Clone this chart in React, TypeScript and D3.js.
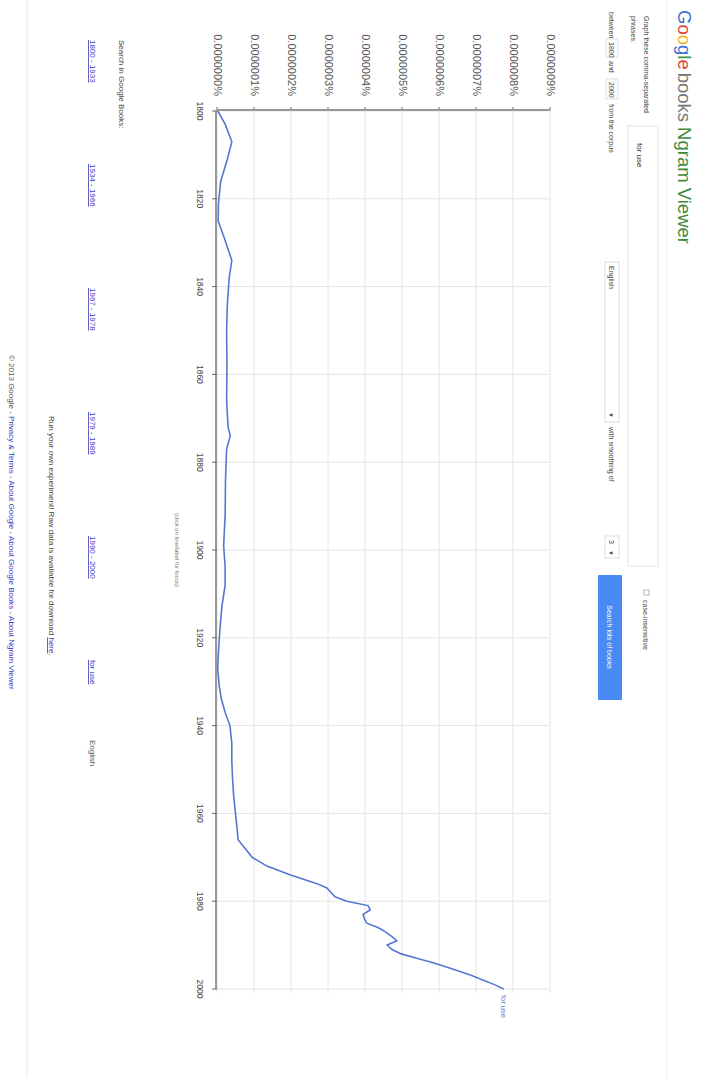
import React from "react";
import * as d3 from "d3";

// ---- data (frequency in units of 1e-7 %) ----
const years = [
  1800, 1803, 1807, 1811, 1816, 1821, 1825, 1829, 1834, 1838, 1844, 1850, 1858, 1866, 1872, 1874,
  1877, 1884, 1892, 1899, 1904, 1908, 1913, 1918, 1923, 1927, 1931, 1934, 1937, 1940, 1944, 1948,
  1952, 1956, 1960, 1964, 1966, 1968, 1970, 1972, 1974, 1976, 1977, 1979, 1980, 1981, 1982, 1983,
  1984, 1985, 1986, 1987, 1988, 1989, 1990, 1991, 1992, 1993, 1994, 1995, 1996, 1997, 1998, 1999,
  2000,
];
const values = [
  0.02, 0.22, 0.4, 0.28, 0.1, 0.04, 0.03, 0.2, 0.4, 0.33, 0.28, 0.26, 0.27, 0.26, 0.3, 0.36,
  0.26, 0.23, 0.22, 0.18, 0.22, 0.22, 0.13, 0.08, 0.04, 0.02, 0.06, 0.12, 0.22, 0.35, 0.4, 0.4,
  0.42, 0.45, 0.5, 0.55, 0.57, 0.76, 0.95, 1.35, 1.97, 2.7, 2.97, 3.19, 3.51, 4.08, 4.14, 3.95,
  3.98, 4.05, 4.35, 4.55, 4.72, 4.86, 4.6, 4.73, 4.98, 5.4, 5.84, 6.2, 6.57, 6.9, 7.2, 7.5,
  7.75,
];
const xTicks = [1800, 1820, 1840, 1860, 1880, 1900, 1920, 1940, 1960, 1980, 2000];
const yTicks = [0, 1, 2, 3, 4, 5, 6, 7, 8, 9];
const yTickLabels = [
  "0.0000000%", "0.0000001%", "0.0000002%", "0.0000003%", "0.0000004%",
  "0.0000005%", "0.0000006%", "0.0000007%", "0.0000008%", "0.0000009%",
];
const phrase = "for use";
const searchRanges = ["1800 - 1933", "1934 - 1966", "1967 - 1978", "1979 - 1989", "1990 - 2000"];

const FONT = "'Liberation Sans', Arial, sans-serif";

export default function App() {
  const W = 1078; // unrotated width (screen height)
  const H = 703; // unrotated height (screen width)
  const x = d3.scaleLinear().domain([1800, 2000]).range([111, 989]);
  const y = d3.scaleLinear().domain([0, 9]).range([486, 153]);
  const pts: [number, number][] = years.map((yr, i) => [yr, values[i]]);
  const path = d3
    .line<[number, number]>()
    .x((d) => x(d[0]))
    .y((d) => y(d[1]))(pts) as string;
  const last = pts[pts.length - 1];

  const googleLetters = [
    { c: "G", f: "#3b6fd4" },
    { c: "o", f: "#d9453a" },
    { c: "o", f: "#f0b52c" },
    { c: "g", f: "#3b6fd4" },
    { c: "l", f: "#3a9a4a" },
    { c: "e", f: "#d9453a" },
  ];

  return (
    <svg
      width={H}
      height={W}
      style={{ position: "absolute", left: 0, top: 0, background: "#fff" }}
      fontFamily={FONT}
    >
      <rect x={0} y={0} width={H} height={W} fill="#fff" />
      <g transform={`translate(${H},0) rotate(90)`}>
        {/* header */}
        <text x={10} y={25} fontSize={18.5}>
          {googleLetters.map((l, i) => (
            <tspan key={i} fill={l.f}>
              {l.c}
            </tspan>
          ))}
          <tspan fill="#777" dx={3}>books</tspan>
          <tspan fill="#3f8a3a" dx={5}>Ngram Viewer</tspan>
        </text>
        <line x1={0} x2={W} y1={36} y2={36} stroke="#eee" strokeWidth={1} />
        <text x={16} y={59} fontSize={7} fill="#444">Graph these comma-separated</text>
        <text x={16} y={72} fontSize={7} fill="#444">phrases:</text>
        <rect x={126} y={45} width={440} height={30} fill="#fff" stroke="#e2e2e2" />
        <text x={143} y={66} fontSize={8} fill="#333">{phrase}</text>
        <rect x={590} y={54} width={5} height={5} fill="#fff" stroke="#999" strokeWidth={0.7} />
        <text x={600} y={60} fontSize={7} fill="#444">case-insensitive</text>

        <text x={12} y={94} fontSize={7} fill="#444">between</text>
        <rect x={39} y={85} width={18} height={12} fill="#fff" stroke="#ddd" />
        <text x={42} y={94} fontSize={7} fill="#444">1800</text>
        <text x={61} y={94} fontSize={7} fill="#444">and</text>
        <rect x={79} y={85} width={20} height={12} fill="#fff" stroke="#ddd" />
        <text x={82} y={94} fontSize={7} fill="#444">2000</text>
        <text x={104} y={94} fontSize={7} fill="#444">from the corpus</text>
        <rect x={262} y={84} width={160} height={14} fill="#fff" stroke="#ddd" />
        <text x={266} y={94} fontSize={7} fill="#444">English</text>
        <text x={412} y={94} fontSize={6} fill="#444">▼</text>
        <text x={427} y={94} fontSize={7} fill="#444">with smoothing of</text>
        <rect x={536} y={84} width={22} height={14} fill="#fff" stroke="#ddd" />
        <text x={540} y={94} fontSize={7} fill="#444">3</text>
        <text x={550} y={94} fontSize={6} fill="#444">▼</text>
        <rect x={575} y={81} width={125} height={24} fill="#4a8af4" rx={1} />
        <text x={637} y={96} fontSize={7} fill="#fff" textAnchor="middle">
          Search lots of books
        </text>

        {/* chart */}
        {yTicks.map((t) => (
          <line key={"gy" + t} x1={x(1800)} x2={x(2000) + 4} y1={y(t)} y2={y(t)} stroke="#e4e4e4" />
        ))}
        {xTicks.map((t) => (
          <line key={"gx" + t} x1={x(t)} x2={x(t)} y1={y(0)} y2={y(9)} stroke="#e4e4e4" />
        ))}
        {yTicks.map((t, i) => (
          <g key={"yt" + t}>
            <line x1={x(1800) - 4} x2={x(1800)} y1={y(t)} y2={y(t)} stroke="#666" />
            <text
              x={x(1800) - 15}
              y={y(t) + 3.5}
              fontSize={11}
              fill="#555"
              textAnchor="end"
            >
              {yTickLabels[i]}
            </text>
          </g>
        ))}
        <line x1={x(1800) - 1} x2={x(1800) - 1} y1={y(0)} y2={y(9)} stroke="#999" strokeWidth={2} />
        <line x1={x(1800)} x2={x(2000)} y1={y(0) + 1} y2={y(0) + 1} stroke="#999" strokeWidth={2} />
        {xTicks.map((t) => (
          <g key={"xt" + t}>
            <line x1={x(t)} x2={x(t)} y1={y(0)} y2={y(0) + 5} stroke="#666" />
            <text x={x(t)} y={y(0) + 20} fontSize={8.5} fill="#444" textAnchor="middle">
              {t}
            </text>
          </g>
        ))}
        <path d={path} fill="none" stroke="#5577d2" strokeWidth={1.6} />
        <text x={x(last[0]) + 6} y={y(last[1]) + 3} fontSize={7.5} fill="#5577d2">
          {phrase}
        </text>
        <text x={550} y={528} fontSize={6} fill="#777" textAnchor="middle">
          (click on line/label for focus)
        </text>

        {/* search links */}
        <text x={40} y={584} fontSize={8} fill="#444">Search in Google Books:</text>
        {searchRanges.map((r, i) => (
          <text
            key={r}
            x={40 + i * 124}
            y={613}
            fontSize={8}
            fill="#3a3ac0"
            textDecoration="underline"
          >
            {r}
          </text>
        ))}
        <text x={660} y={613} fontSize={8} fill="#3a3ac0" textDecoration="underline">
          {phrase}
        </text>
        <text x={740} y={613} fontSize={8} fill="#555">English</text>

        <text x={416} y={654} fontSize={8} fill="#444">
          Run your own experiment! Raw data is available for download{" "}
          <tspan fill="#3a3ac0" textDecoration="underline">here</tspan>.
        </text>
        <line x1={0} x2={W} y1={676} y2={676} stroke="#e6e6e6" />
        <text x={355} y={694} fontSize={8} fill="#555">
          © 2013 Google -{" "}
          <tspan fill="#3a3ac0">Privacy &amp; Terms</tspan> -{" "}
          <tspan fill="#3a3ac0">About Google</tspan> -{" "}
          <tspan fill="#3a3ac0">About Google Books</tspan> -{" "}
          <tspan fill="#3a3ac0">About Ngram Viewer</tspan>
        </text>
      </g>
    </svg>
  );
}
